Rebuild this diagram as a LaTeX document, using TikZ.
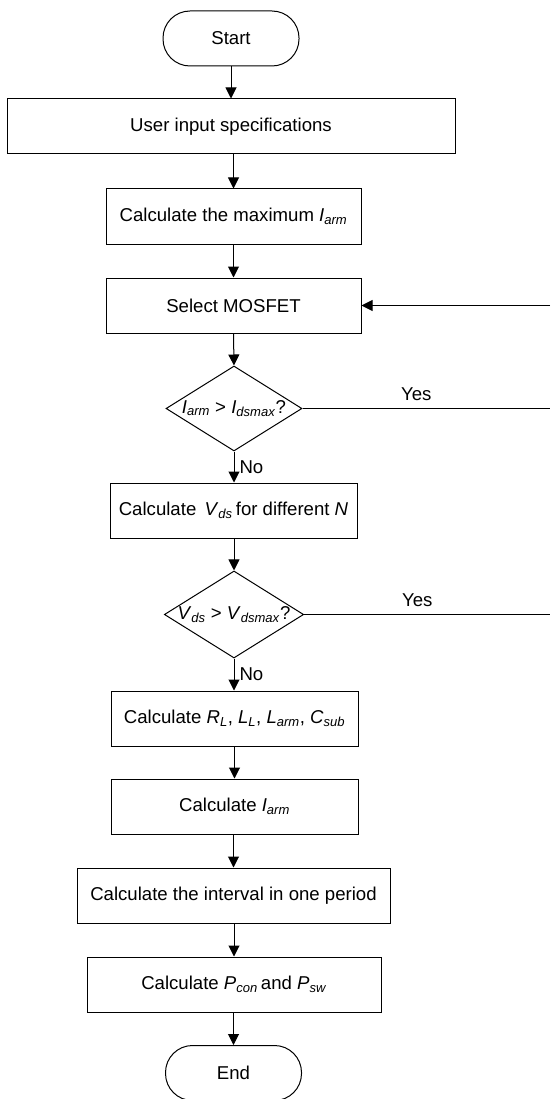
\documentclass[tikz,border=0pt]{standalone}
\usepackage{fontspec}
\setmainfont{Liberation Sans}
\usetikzlibrary{shapes.geometric,arrows.meta}
\newcommand{\vsb}[2]{\textit{#1}\textsubscript{\textit{#2}}}
\begin{document}
\begin{tikzpicture}[x=1pt,y=-1pt,
  every node/.style={font=\fontsize{18.6}{21}\selectfont},
  term/.style={draw,line width=1pt,rounded corners=27pt,minimum width=136pt,minimum height=55pt,inner sep=0pt},
  proc/.style={draw,line width=1pt,minimum height=55pt,inner sep=0pt},
  dec/.style={draw,line width=1pt,diamond,aspect=1.6,minimum width=136pt,minimum height=85pt,inner sep=0pt},
  flow/.style={line width=1pt,-{Triangle[length=11pt,width=11pt]}},
  plain/.style={line width=1pt},
  lbl/.style={inner sep=0pt}]
\useasboundingbox (0,0) rectangle (550,1099);
\node[term] (start) at (231,38.5) {Start};
\node[proc,minimum width=448pt] (user) at (231,126.5) {User input specifications};
\node[proc,minimum width=255pt] (cmax) at (233.5,216.5) {Calculate the maximum \vsb{I}{arm}};
\node[proc,minimum width=255pt] (sel) at (233.5,305.5) {Select MOSFET};
\node[dec] (d1) at (234,408.5) {\vsb{I}{arm} > \vsb{I}{dsmax}?};
\node[proc,minimum width=247pt] (vds) at (233.5,510.5) {Calculate\, \vsb{V}{ds}\,for different \textit{N}};
\node[dec] (d2) at (234,614.5) {\vsb{V}{ds} > \vsb{V}{dsmax}?};
\node[proc,minimum width=247pt] (rl) at (234.5,718.5) {Calculate \vsb{R}{L}, \vsb{L}{L}, \vsb{L}{arm}, \vsb{C}{sub}};
\node[proc,minimum width=247pt] (ia) at (234.5,806.5) {Calculate \vsb{I}{arm}};
\node[proc,minimum width=313pt] (intv) at (233.5,895.5) {Calculate the interval in one period};
\node[proc,minimum width=294pt] (pc) at (234,984.5) {Calculate \vsb{P}{con}\,and \vsb{P}{sw}};
\node[term] (end) at (233.5,1073) {End};
\coordinate (r0) at (550,305.5);
\coordinate (r1) at (550,408.5);
\coordinate (r2) at (550,614.5);
\draw[flow] (start.south) -- (start.south |- user.north);
\draw[flow] (user.south -| cmax.north) -- (cmax.north);
\draw[flow] (cmax) -- (sel);
\draw[flow] (sel.south) -- (d1.north);
\draw[flow] (d1.south) -- (d1.south |- vds.north) node[lbl,midway,right=5pt] {No};
\draw[flow] (vds.south -| d2.north) -- (d2.north);
\draw[flow] (d2.south) -- (d2.south |- rl.north) node[lbl,midway,right=5pt] {No};
\draw[flow] (rl) -- (ia);
\draw[flow] (ia.south -| intv.north) -- (intv.north);
\draw[flow] (intv.south -| pc.north) -- (pc.north);
\draw[flow] (pc.south -| end.north) -- (end.north);
\draw[plain] (d1.east) -- (r1) node[lbl,pos=0.46,above=7pt] {Yes};
\draw[plain] (d2.east) -- (r2) node[lbl,pos=0.46,above=7pt] {Yes};
\draw[flow] (r0) -- (sel.east);
\end{tikzpicture}
\end{document}
